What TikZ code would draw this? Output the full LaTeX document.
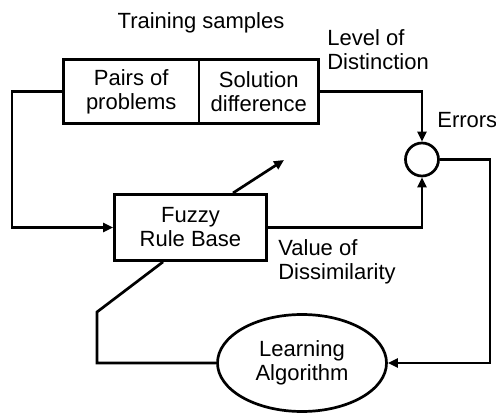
\documentclass[tikz,border=0pt]{standalone}
\usepackage{fontspec}
\setmainfont{Liberation Sans}
\usetikzlibrary{arrows.meta,shapes.geometric}
\begin{document}
\begin{tikzpicture}[x=1pt,y=-1pt,
  line width=2.7pt,
  every node/.style={font=\fontsize{22}{24}\selectfont},
  boxn/.style={draw, rectangle, inner sep=0pt, align=center},
  arr/.style={-{Triangle[length=10pt,width=9pt]}},
  lbl/.style={align=left, inner sep=0pt}]
\useasboundingbox (0,0) rectangle (496,414);
\node[boxn, minimum width=135.5pt, minimum height=64pt] (pairs) at (131.25,91.5) {Pairs of\\problems};
\node[boxn, minimum width=119.5pt, minimum height=64pt] (sol) at (258.75,91.5) {Solution\\difference};
\node[boxn, minimum width=152pt, minimum height=66pt] (fuzzy) at (190.5,227.5) {Fuzzy\\Rule Base};
\node[draw, ellipse, minimum width=169pt, minimum height=97pt, inner sep=0pt, align=center] (learn) at (302,363) {Learning\\Algorithm};
\node[draw, circle, minimum size=33pt, inner sep=0pt] (sum) at (422,159.5) {};
\node[anchor=base, inner sep=0pt] (title) at (201,28.3) {Training samples};
\node[lbl, anchor=base west] (lod) at (326,70) {Level of\\Distinction};
\node[lbl, anchor=base west] (err) at (436,128) {Errors};
\node[lbl, anchor=base west] (vod) at (277,280) {Value of\\Dissimilarity};
\coordinate (c1) at (12,91.5);
\coordinate (c2) at (12,227.5);
\draw[arr] (pairs.west) -- (c1) -- (c2) -- (fuzzy.west);
\coordinate (c3) at (422,91.5);
\draw[arr] (sol.east) -- (c3) -- (sum.north);
\coordinate (c4) at (422,227.5);
\draw[arr] (fuzzy.east) -- (c4) -- (sum.south);
\coordinate (c5) at (490,159.5);
\coordinate (c6) at (490,363);
\draw[arr] (sum.east) -- (c5) -- (c6) -- (learn.east);
\coordinate (c7) at (97,363);
\coordinate (c8) at (97,312);
\coordinate (c9) at (163,261.9);
\draw (learn.west) -- (c7) -- (c8) -- (c9);
\coordinate (c10) at (233,193);
\coordinate (c11) at (284,160);
\draw[arr] (c10) -- (c11);
\end{tikzpicture}
\end{document}
